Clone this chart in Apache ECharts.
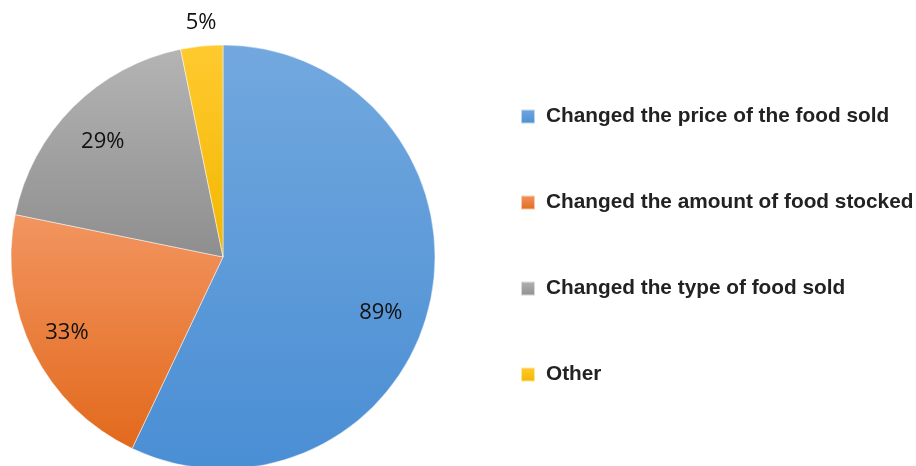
<!DOCTYPE html>
<html><head><meta charset="utf-8">
<script src="https://cdn.jsdelivr.net/npm/echarts@6/dist/echarts.min.js"></script>
<style>html,body{margin:0;padding:0;background:#fff}#c{width:916px;height:466px}</style>
</head><body><div id="c"></div>
<script>
const categories = ["Changed the price of the food sold","Changed the amount of food stocked","Changed the type of food sold","Other"];
const values = [89, 33, 29, 5];
const topColors = ["#72a8de","#f29560","#b4b4b4","#ffca30"];
const bottomColors = ["#4a8ed4","#e2691c","#8e8e8e","#f2b700"];
const labelOffsets = [[-8,18],[-4,0],[0,5],[2,3]];

function grad(i){
  return new echarts.graphic.LinearGradient(0,0,0,1,[{offset:0,color:topColors[i]},{offset:1,color:bottomColors[i]}]);
}
const center = [223, 257];
const mainData = categories.map((n,i)=>({name:n,value:values[i],itemStyle:{color:grad(i)}}));
const labelFont = {fontFamily:"Open Sans",fontSize:22,color:"#111"};
const ringData = categories.map((n,i)=>({name:n,value:values[i],label:{show:i<3,offset:labelOffsets[i]}}));
const outerData = categories.map((n,i)=>({name:n,value:values[i],label:{show:i===3,offset:labelOffsets[i]}}));

const chart = echarts.init(document.getElementById('c'));
chart.setOption({
  animation:false,
  legend:{
    orient:'vertical', left:515, top:101,
    itemWidth:14, itemHeight:14, itemGap:65, icon:'rect',
    textStyle:{fontFamily:"Liberation Sans",fontWeight:'bold',fontSize:20.8,color:'#222',padding:[0,0,0,6]},
    data:categories, selectedMode:false
  },
  series:[
    {type:'pie',center:center,radius:[0,212],startAngle:90,clockwise:true,
     label:{show:false},labelLine:{show:false},silent:true,
     itemStyle:{borderColor:'rgba(255,255,255,0.6)',borderWidth:0.8},
     data:mainData},
    {type:'pie',center:center,radius:[122,212],startAngle:90,clockwise:true,silent:true,
     itemStyle:{color:'rgba(0,0,0,0)'},labelLine:{show:false},
     label:Object.assign({position:'inside',formatter:'{c}%'},labelFont),
     data:ringData},
    {type:'pie',center:center,radius:[225,245],startAngle:90,clockwise:true,silent:true,
     itemStyle:{color:'rgba(0,0,0,0)'},labelLine:{show:false},
     label:Object.assign({position:'inside',formatter:'{c}%'},labelFont),
     data:outerData}
  ]
});
</script></body></html>
